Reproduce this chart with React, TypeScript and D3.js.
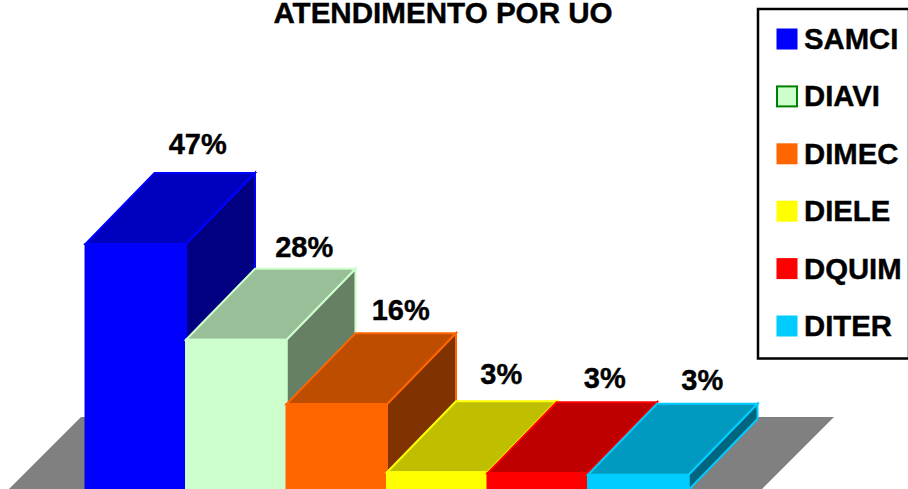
// App.tsx
import React from 'react';
import * as d3 from 'd3';

const categories = ['SAMCI', 'DIAVI', 'DIMEC', 'DIELE', 'DQUIM', 'DITER'];
const values = [47, 28.7, 16.4, 3.4, 3.2, 2.9];
const valueLabels = ['47%', '28%', '16%', '3%', '3%', '3%'];
const barColors = ['#0000ff', '#ccffcc', '#ff6600', '#ffff00', '#ff0000', '#00ccff'];
const legendStrokes = ['#0000ff', '#008000', '#ff6600', '#ffff00', '#ff0000', '#00ccff'];

const width = 908;
const height = 489;
const baseY = 490; // the zero line falls just under the bottom edge of the picture
const depthX = 69;
const depthY = 71;
const fontFamily = '"Liberation Sans", Arial, sans-serif';

// hand placed labels, the original chart nudges them off the bar centres
const labelDx = [-7, -1, -5, -5, -2, -5];
const labelDy = [-3, 4, 3, -1, 2, 2];

const x = d3.scaleBand<string>().domain(categories).range([85.5, 688.5]).padding(0);
const y = d3.scaleLinear().domain([0, 47]).range([baseY, 244]);
const legendY = d3.scalePoint<string>().domain(categories).range([39, 326]);

const shade = (color: string, k: number) => {
  const c = d3.rgb(color);
  return d3.rgb(c.r * k, c.g * k, c.b * k).formatHex();
};

const poly = (pts: [number, number][]) => d3.line()(pts) + 'Z';

const Bar = ({ name, value, color }: { name: string; value: number; color: string }) => {
  const x0 = x(name) as number;
  const x1 = x0 + x.bandwidth();
  const top = y(value);
  const side = poly([[x1, top], [x1 + depthX, top - depthY], [x1 + depthX, baseY - depthY], [x1, baseY]]);
  const roof = poly([[x0, top], [x0 + depthX, top - depthY], [x1 + depthX, top - depthY], [x1, top]]);
  return (
    <g stroke={color} strokeWidth={2} strokeLinejoin="miter">
      <path d={side} fill={shade(color, 0.5)} />
      <path d={roof} fill={shade(color, 0.75)} />
      <rect x={x0} y={top} width={x.bandwidth()} height={baseY - top} fill={color} />
    </g>
  );
};

const App = () => {
  const floorX0 = 9;
  const floorX1 = 762;
  const floorTop = 417;
  const floorDx = baseY - 1 - floorTop;
  return (
    <svg
      width={width}
      height={height}
      style={{ position: 'absolute', left: 0, top: 0, background: '#fff' }}
      fontFamily={fontFamily}
      fontWeight="bold"
    >
      <text x={443} y={23} textAnchor="middle" fontSize={29.6} stroke="#000" strokeWidth={0.4}>
        ATENDIMENTO POR UO
      </text>

      <path
        d={poly([[floorX0, baseY - 1], [floorX0 + floorDx, floorTop], [floorX1 + floorDx, floorTop], [floorX1, baseY - 1]])}
        fill="#808080"
      />

      {categories.map((d, i) => (
        <Bar key={d} name={d} value={values[i]} color={barColors[i]} />
      ))}

      {categories.map((d, i) => (
        <text
          key={d}
          x={(x(d) as number) + x.bandwidth() / 2 + depthX + labelDx[i]}
          y={y(values[i]) - depthY - 16 + labelDy[i]}
          textAnchor="middle"
          fontSize={29}
          stroke="#000"
          strokeWidth={0.4}
        >
          {valueLabels[i]}
        </text>
      ))}

      <rect x={758} y={9} width={151} height={349.5} fill="#fff" stroke="#000" strokeWidth={2.5} />
      {categories.map((d, i) => (
        <g key={d}>
          <rect
            x={i === 1 ? 777 : 776.5}
            y={(legendY(d) as number) - (i === 1 ? 10 : 10.5)}
            width={i === 1 ? 20 : 21}
            height={i === 1 ? 20 : 21}
            fill={barColors[i]}
            stroke={legendStrokes[i]}
            strokeWidth={i === 1 ? 2 : 0}
          />
          <text x={804} y={(legendY(d) as number) + 10} fontSize={29.3} stroke="#000" strokeWidth={0.4}>
            {d}
          </text>
        </g>
      ))}
    </svg>
  );
};

export default App;
